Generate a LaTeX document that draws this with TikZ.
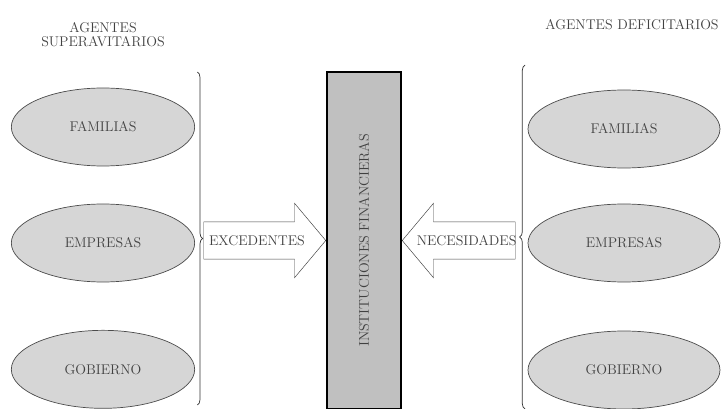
\documentclass[tikz,border=0pt]{standalone}
\usetikzlibrary{shapes.geometric, shapes.arrows, decorations.pathreplacing}
\definecolor{txtgray}{RGB}{65,65,65}
\definecolor{ellgray}{RGB}{214,214,214}
\definecolor{boxgray}{RGB}{192,192,192}

\begin{document}
\begin{tikzpicture}[
  agente/.style={ellipse, draw=black!70, semithick, fill=ellgray, inner sep=0pt,
                 minimum width=5.5cm, minimum height=2.34cm, font=\large, text=txtgray},
  titulo/.style={font=\large, text=txtgray, align=center},
  instbox/.style={draw, line width=1.6pt, fill=boxgray,
                  minimum width=2.22cm, minimum height=10.11cm, inner sep=0pt},
  flecha/.style={single arrow, draw=black!75, fill=white, inner xsep=0pt, inner ysep=0.555cm,
                 minimum width=2.22cm, single arrow head extend=0.555cm,
                 single arrow tip angle=100},
  llave/.style={decorate, decoration={brace, amplitude=0.16cm}, black!80, semithick},
]
\useasboundingbox (0,0) rectangle (21.75,-12.27);

% Titles
\node[titulo] (tsup) at (3.09,-1.05) {AGENTES\\[-2pt]SUPERAVITARIOS};
\node[titulo] (tdef) at (18.96,-0.75) {AGENTES DEFICITARIOS};

% Surplus agents
\node[agente] (fam1) at (3.09,-3.81) {FAMILIAS};
\node[agente] (emp1) at (3.09,-7.29) {EMPRESAS};
\node[agente] (gob1) at (3.09,-11.08) {GOBIERNO};

% Deficit agents
\node[agente, minimum width=5.76cm] (fam2) at (18.72,-3.87) {FAMILIAS};
\node[agente, minimum width=5.76cm] (emp2) at (18.72,-7.29) {EMPRESAS};
\node[agente, minimum width=5.76cm] (gob2) at (18.72,-11.1) {GOBIERNO};

% Financial institutions
\node[instbox] (ifin) at (10.92,-7.215) {};
\node[rotate=90, font=\large, text=txtgray] (ifintxt) at (ifin) {INSTITUCIONES FINANCIERAS};

% Braces
\coordinate (ls) at (5.92,-2.16);
\coordinate (li) at (5.92,-12.15);
\coordinate (rs) at (15.75,-1.95);
\coordinate (ri) at (15.75,-12.27);
\draw[llave] (ls) -- (li);
\draw[llave] (ri) -- (rs);

% Block arrows
\node[flecha, minimum height=3.66cm, anchor=tip] (exc) at (ifin.west) {};
\node[font=\large, text=txtgray] (exctxt) at (exc) {EXCEDENTES};
\node[flecha, minimum height=3.39cm, shape border rotate=180, anchor=tip] (nec) at (ifin.east) {};
\node[font=\large, text=txtgray] (nectxt) at (nec) {NECESIDADES};
\end{tikzpicture}
\end{document}
